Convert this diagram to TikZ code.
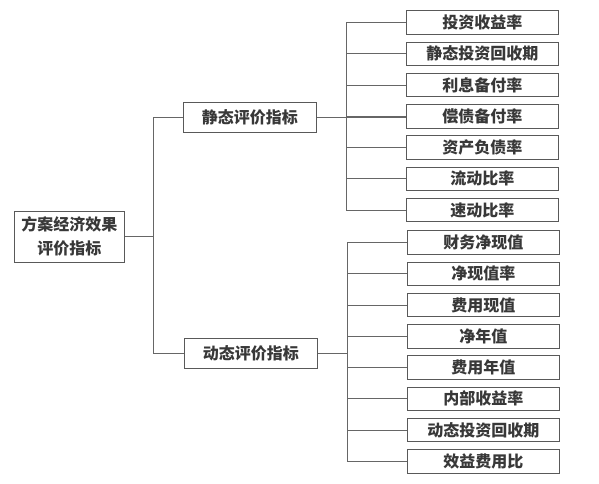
\documentclass[tikz,border=0pt]{standalone}
\usepackage{fontspec}
\setmainfont{Noto Sans CJK SC}
\begin{document}
\begin{tikzpicture}[x=1pt,y=-1pt,
  every node/.style={font=\fontsize{16}{24}\selectfont\bfseries, text=black!78},
  leaf/.style={draw=black!65, line width=0.8pt, minimum width=152pt, minimum height=23.5pt, inner sep=0pt, anchor=west},
  mid/.style={draw=black!65, line width=0.8pt, minimum width=133pt, minimum height=30pt, inner sep=0pt, anchor=west},
  conn/.style={draw=black!60, line width=0.7pt}]
\useasboundingbox (0,0) rectangle (599,483);
\node[draw=black!65, line width=0.8pt, minimum width=110pt, minimum height=51pt, align=center, inner sep=0pt, anchor=west] (root) at (14,236.5) {方案经济效果\\评价指标};
\node[mid] (st) at (183,117) {静态评价指标};
\node[mid] (dy) at (184,353) {动态评价指标};
\foreach \t [count=\i] in {投资收益率,静态投资回收期,利息备付率,偿债备付率,资产负债率,流动比率,速动比率}
  \node[leaf] (s\i) at (406,{22.5+31.25*(\i-1)}) {\t};
\foreach \t [count=\i] in {财务净现值,净现值率,费用现值,净年值,费用年值,内部收益率,动态投资回收期,效益费用比}
  \node[leaf] (d\i) at (407,{242.5+31.25*(\i-1)}) {\t};
\coordinate (rj) at (153.5,0);
\coordinate (sj) at (346,0);
\coordinate (dj) at (347,0);
% root branches
\draw[conn] (root.east) -- (root.east -| rj);
\draw[conn] (st.west) -- (st.west -| rj) -- (dy.west -| rj) -- (dy.west);
% static leaves
\draw[conn] (st.east) -- (st.east -| s4.west);
\draw[conn] (s1.west) -- (s1.west -| sj) -- (s7.west -| sj) -- (s7.west);
\foreach \i in {2,3,4,5,6} \draw[conn] (s\i.west) -- (s\i.west -| sj);
% dynamic leaves
\draw[conn] (dy.east) -- (dy.east -| dj);
\draw[conn] (d1.west) -- (d1.west -| dj) -- (d8.west -| dj) -- (d8.west);
\foreach \i in {2,...,7} \draw[conn] (d\i.west) -- (d\i.west -| dj);
\end{tikzpicture}
\end{document}
